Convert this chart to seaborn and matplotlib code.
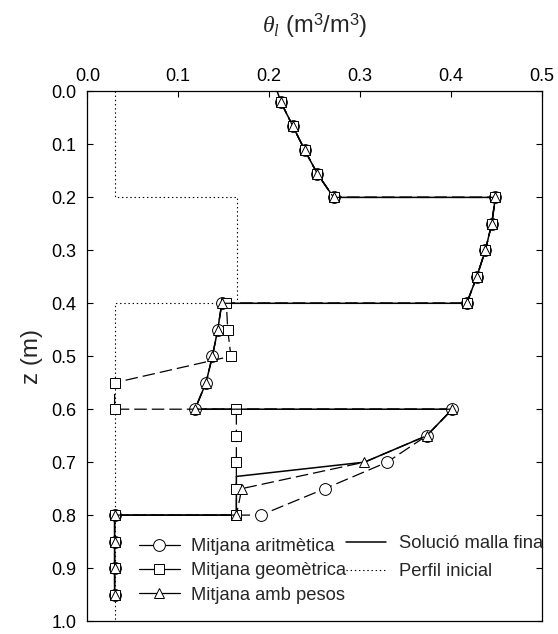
import matplotlib
matplotlib.use("Agg")
import matplotlib.pyplot as plt
import seaborn as sns
import pandas as pd
from matplotlib.lines import Line2D

# ---------------- data ----------------
z_top = [0.02, 0.065, 0.11, 0.155, 0.2]
th_top = [0.213, 0.226, 0.239, 0.253, 0.271]

# Mitjana aritmètica
arit_z = z_top + [0.2, 0.25, 0.3, 0.35, 0.4, 0.4, 0.45, 0.5, 0.55, 0.6, 0.6, 0.65, 0.7, 0.75, 0.8, 0.8, 0.85, 0.9, 0.95]
arit_th = th_top + [0.449, 0.445, 0.438, 0.4285, 0.4175, 0.148, 0.1435, 0.1376, 0.1306, 0.1185, 0.4016, 0.3735, 0.33, 0.2615, 0.191, 0.03, 0.03, 0.03, 0.03]

# Mitjana geomètrica
geom_z = z_top + [0.2, 0.25, 0.3, 0.35, 0.4, 0.4, 0.45, 0.5, 0.55, 0.6, 0.6, 0.65, 0.7, 0.75, 0.8, 0.8, 0.85, 0.9, 0.95]
geom_th = th_top + [0.449, 0.445, 0.438, 0.4285, 0.4175, 0.153, 0.1545, 0.158, 0.03, 0.03, 0.164, 0.164, 0.164, 0.164, 0.164, 0.03, 0.03, 0.03, 0.03]

# Mitjana amb pesos
pes_z = z_top + [0.2, 0.25, 0.3, 0.35, 0.4, 0.4, 0.45, 0.5, 0.55, 0.6, 0.6, 0.65, 0.7, 0.75, 0.8, 0.8, 0.85, 0.9, 0.95]
pes_th = th_top + [0.449, 0.445, 0.438, 0.4285, 0.4175, 0.148, 0.1435, 0.1376, 0.1306, 0.1185, 0.4016, 0.3735, 0.305, 0.170, 0.164, 0.03, 0.03, 0.03, 0.03]

# Solució malla fina
fine_z = [0.0, 0.02, 0.065, 0.11, 0.155, 0.2, 0.2, 0.25, 0.3, 0.35, 0.4, 0.4, 0.45, 0.5, 0.55, 0.6, 0.6, 0.65, 0.7, 0.727, 0.8, 0.8, 0.95]
fine_th = [0.209, 0.213, 0.226, 0.239, 0.253, 0.271, 0.449, 0.445, 0.438, 0.4285, 0.4175, 0.148, 0.1435, 0.1376, 0.1306, 0.1185, 0.4016, 0.3735, 0.305, 0.164, 0.164, 0.03, 0.03]

# Perfil inicial
init_z = [0.0, 0.2, 0.2, 0.4, 0.4, 1.0]
init_th = [0.03, 0.03, 0.165, 0.165, 0.03, 0.03]

x_ticks = [0.0, 0.1, 0.2, 0.3, 0.4, 0.5]
y_ticks = [0.0, 0.1, 0.2, 0.3, 0.4, 0.5, 0.6, 0.7, 0.8, 0.9, 1.0]

labels = ["Mitjana aritmètica", "Mitjana geomètrica", "Mitjana amb pesos",
          "Solució malla fina", "Perfil inicial"]

# ---------------- style ----------------
sns.set_theme(style="white")
plt.rcParams["font.family"] = ["Liberation Sans", "DejaVu Sans"]
plt.rcParams["lines.scale_dashes"] = False
plt.rcParams["mathtext.fontset"] = "custom"
plt.rcParams["mathtext.rm"] = "Liberation Sans"
plt.rcParams["mathtext.it"] = "Liberation Serif:italic"

fig = plt.figure(figsize=(5.58, 6.34), dpi=100)
ax = fig.add_axes([0.1565, 0.0205, 0.8143, 0.8352])

dash = (0, (9, 3.6))
dot = (0, (1, 2))
lw = 0.9

sns.lineplot(x=init_th, y=init_z, sort=False, estimator=None, ax=ax,
             color="black", linewidth=0.8, linestyle=dot, zorder=1)
sns.lineplot(x=fine_th, y=fine_z, sort=False, estimator=None, ax=ax,
             color="black", linewidth=1.1, linestyle="-", zorder=2)

mk = dict(markerfacecolor="white", markeredgecolor="black", markeredgewidth=0.7)
sns.lineplot(x=arit_th, y=arit_z, sort=False, estimator=None, ax=ax,
             color="black", linewidth=lw, linestyle=dash, marker="o",
             markersize=8.5, zorder=3, **mk)
sns.lineplot(x=geom_th, y=geom_z, sort=False, estimator=None, ax=ax,
             color="black", linewidth=lw, linestyle=dash, marker="s",
             markersize=7.2, zorder=4, **mk)
sns.lineplot(x=pes_th, y=pes_z, sort=False, estimator=None, ax=ax,
             color="black", linewidth=lw, linestyle=dash, marker="^",
             markersize=7.0, zorder=5, **mk)

ax.set_xlim(0.0, 0.5)
ax.set_ylim(1.0, 0.0)
ax.set_xticks(x_ticks)
ax.set_xticklabels([f"{v:.1f}" for v in x_ticks])
ax.set_yticks(y_ticks)
ax.set_yticklabels([f"{v:.1f}" for v in y_ticks])

ax.xaxis.tick_top()
ax.xaxis.set_label_position("top")
ax.tick_params(axis="x", direction="in", length=4, width=0.8, pad=5,
               labelsize=13, colors="black", top=True, bottom=False)
ax.tick_params(axis="y", direction="in", length=4.5, width=0.8, pad=8,
               labelsize=13, colors="black", left=True, right=True)
for s in ax.spines.values():
    s.set_color("black")
    s.set_linewidth(0.9)

ax.set_xlabel(r"$\theta_l$ (m$^3$/m$^3$)", fontsize=17, labelpad=25)
ax.set_ylabel("z (m)", fontsize=17.5, labelpad=6)

# legends
h1 = [Line2D([0], [0], color="black", lw=lw, marker=m, markersize=s, **mk)
      for m, s in [("o", 8.5), ("s", 7.2), ("^", 7.0)]]
leg1 = ax.legend(h1, labels[:3], loc="upper left",
                 bbox_to_anchor=(0.2496, 0.1515), bbox_transform=fig.transFigure,
                 frameon=False, fontsize=13.2, handlelength=2.2,
                 handletextpad=0.62, labelspacing=0.4, borderpad=0,
                 borderaxespad=0)
ax.add_artist(leg1)
h2 = [Line2D([0], [0], color="black", lw=1.1, linestyle="-"),
      Line2D([0], [0], color="black", lw=0.8, linestyle=dot)]
ax.legend(h2, labels[3:], loc="upper left",
          bbox_to_anchor=(0.62, 0.1560), bbox_transform=fig.transFigure,
          frameon=False, fontsize=13.2, handlelength=2.2,
          handletextpad=0.68, labelspacing=0.62, borderpad=0,
          borderaxespad=0)

fig.savefig("out.png", dpi=100)
